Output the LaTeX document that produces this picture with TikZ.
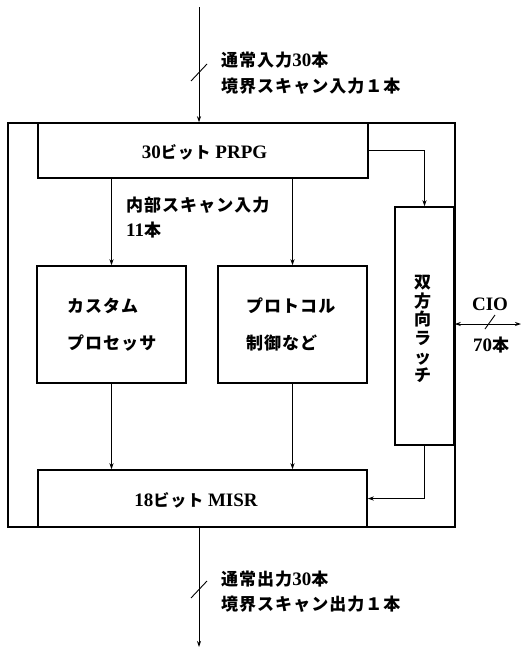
\documentclass[tikz,border=0pt]{standalone}
\usepackage{fontspec}
\setmainfont{Liberation Serif}
\newfontfamily\cjk{Noto Sans CJK JP}
\newfontfamily\cjks{Noto Sans CJK JP}[LetterSpace=6]
\usetikzlibrary{arrows.meta}
\newcommand\jl[1]{{\cjks\bfseries #1}}
\newcommand\jn[1]{{\cjk\bfseries #1}}
\newcommand\dg[1]{{\fontsize{19}{19}\selectfont #1}}
\begin{document}
\begin{tikzpicture}[x=1pt,y=-1pt,
  blk/.style={draw,line width=1.5pt,inner sep=0pt},
  arr/.style={line width=0.9pt,-{Stealth[length=6pt,width=4pt]}},
  dbl/.style={line width=0.9pt,{Stealth[length=6pt,width=4pt]}-{Stealth[length=6pt,width=4pt]}},
  ln/.style={line width=0.9pt},
  lbl/.style={font=\fontsize{17}{19}\selectfont\bfseries, inner sep=0pt, anchor=west},
  ttl/.style={font=\fontsize{19}{21}\selectfont\bfseries, inner sep=0pt}]
\useasboundingbox (0,0) rectangle (521,648);
% boxes
\node[blk,minimum width=447pt,minimum height=404pt] (outer) at (231.5,325) {};
\node[blk,fill=white,minimum width=330pt,minimum height=55pt] (prpg) at (203,150.5) {};
\node[blk,minimum width=149pt,minimum height=117pt] (lbox) at (111.5,324.5) {};
\node[blk,minimum width=149pt,minimum height=117pt] (mbox) at (292.5,324.5) {};
\node[blk,minimum width=59pt,minimum height=238pt] (latch) at (424.5,326) {};
\node[blk,fill=white,minimum width=329pt,minimum height=57pt] (misr) at (202.5,498.5) {};
% titles
\node[ttl] (prpgt) at (204.5,152) {30{\cjks\bfseries\fontsize{16}{18}\selectfont ビット} PRPG};
\node[ttl] (misrt) at (196,500) {18{\cjks\bfseries\fontsize{16}{18}\selectfont ビット} MISR};
\node[lbl] (l1) at (67,306) {\jl{カスタム}};
\node[lbl] (l2) at (67,343) {\jl{プロセッサ}};
\node[lbl] (m1) at (246,306) {\jl{プロトコル}};
\node[lbl] (m2) at (246,343) {\jl{制御など}};
\node[inner sep=0pt,align=center,font=\fontsize{17}{18.7}\selectfont\cjk\bfseries] (latcht) at (422.5,329) {双\\方\\向\\ラ\\ッ\\チ};
% external connections
\coordinate (in) at (199,7);
\coordinate (out) at (199,647);
\coordinate (cio) at (521,324);
\draw[arr] (in) -- (in |- outer.north);
\draw[arr] (in |- outer.south) -- (out);
\draw[dbl] (latch.east |- cio) -- (cio);
\draw[ln] (191,81) -- (207,64);
\draw[ln] (191,598) -- (207,581);
\draw[ln] (485,329) -- (495,315);
\node[lbl] (t1) at (221,60) {\jl{通常入力}\dg{30}\jl{本}};
\node[lbl] (t2) at (221,86) {\jl{境界スキャン入力１本}};
\node[lbl] (b1) at (221,579) {\jl{通常出力}\dg{30}\jl{本}};
\node[lbl] (b2) at (221,604) {\jl{境界スキャン出力１本}};
\node[lbl,anchor=center] (ciot) at (490,304) {\dg{CIO}};
\node[lbl,anchor=center] (ciob) at (491,345) {\dg{70}\jn{本}};
% internal connections
\node[lbl] (s1) at (126,205) {\jl{内部スキャン入力}};
\node[lbl] (s2) at (126,230) {\dg{11}\jl{本}};
\draw[arr] (lbox.north |- prpg.south) -- (lbox.north);
\draw[arr] (mbox.north |- prpg.south) -- (mbox.north);
\draw[arr] (lbox.south) -- (lbox.south |- misr.north);
\draw[arr] (mbox.south) -- (mbox.south |- misr.north);
\draw[arr] (prpg.east) -| (latch.north);
\draw[arr] (latch.south) |- (misr.east);
\end{tikzpicture}
\end{document}
